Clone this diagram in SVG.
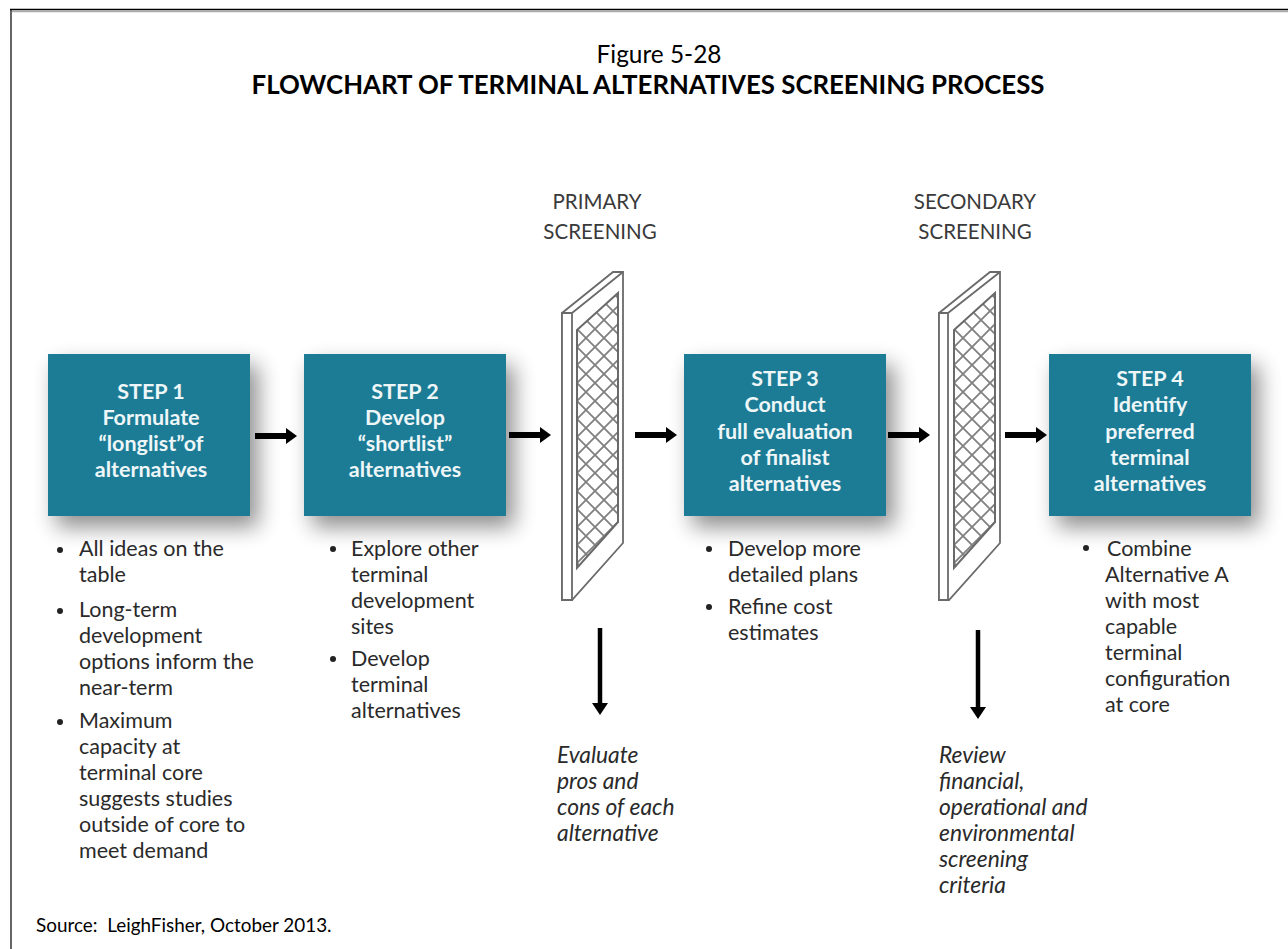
<svg xmlns="http://www.w3.org/2000/svg" width="1288" height="949" viewBox="0 0 1288 949">
<style>
text{font-family:"Lato","Carlito","Liberation Sans",sans-serif;fill:#2a2a2a}
.t{font-size:25.8px;fill:#000;text-anchor:middle}
.b{font-weight:700}
.h{font-size:20.5px;fill:#3a3a3a;text-anchor:middle}
.s{font-size:21.5px;fill:#eef6f8;text-anchor:middle;font-weight:700}
.l{font-size:21.5px;fill:#2a2a2a}
.i{font-size:22.8px;font-style:italic;fill:#2a2a2a}
.box{fill:#1f7c96;filter:url(#sh)}
.f{fill:#fff;stroke:#6a6a6a;stroke-width:1.8}
.g{fill:url(#mesh);stroke:#6a6a6a;stroke-width:2}
.c{stroke:#000;stroke-width:6;fill:none;marker-end:url(#a)}
.v{stroke:#000;stroke-width:4.500;fill:none;marker-end:url(#a2)}
.d{fill:#222}
</style>
<defs>
<filter id="sh" x="-25%" y="-25%" width="155%" height="160%"><feGaussianBlur in="SourceAlpha" stdDeviation="11"/><feOffset dx="8" dy="11"/><feComponentTransfer><feFuncA type="linear" slope="0.45"/></feComponentTransfer><feMerge><feMergeNode/><feMergeNode in="SourceGraphic"/></feMerge></filter>
<pattern id="mesh" width="18" height="18" patternUnits="userSpaceOnUse" x="577" y="293"><rect width="18" height="18" fill="#fff"/><path d="M0 0L18 18M18 0L0 18" stroke="#808080" stroke-width="1.800"/></pattern>
<pattern id="mesh2" width="18" height="18" patternUnits="userSpaceOnUse" x="954" y="293"><rect width="18" height="18" fill="#fff"/><path d="M0 0L18 18M18 0L0 18" stroke="#808080" stroke-width="1.800"/></pattern>
<marker id="a" markerUnits="userSpaceOnUse" markerWidth="12" markerHeight="18" refX="0" refY="9" orient="auto"><path d="M0 1L11 9L0 17Z" fill="#000"/></marker>
<marker id="a2" markerUnits="userSpaceOnUse" markerWidth="12" markerHeight="18" refX="0" refY="9" orient="auto"><path d="M0 1L12 9L0 17Z" fill="#000"/></marker>
</defs>
<rect x="0" y="0" width="1288" height="949" fill="#fff"/>
<path d="M10 11.500H1288" fill="none" stroke="#aaa" stroke-width="1.500"/>
<path d="M11 10V949" fill="none" stroke="#666" stroke-width="2"/>
<path d="M10 9.500H1288" fill="none" stroke="#000" stroke-width="1.500"/>
<text class="t" x="659" y="63" style="font-size:24.400px">Figure 5-28</text>
<text class="t b" x="648" y="94">FLOWCHART OF TERMINAL ALTERNATIVES SCREENING PROCESS</text>
<g id="step1"><rect class="box" x="48" y="354" width="202" height="162"/>
<text class="s" x="151" y="399">STEP 1</text><text class="s" x="151" y="425">Formulate</text><text class="s" x="151" y="451">“longlist”of</text><text class="s" x="151" y="477">alternatives</text></g>
<g id="step2"><rect class="box" x="304" y="354" width="202" height="162"/>
<text class="s" x="405" y="399">STEP 2</text><text class="s" x="405" y="425">Develop</text><text class="s" x="405" y="451">“shortlist”</text><text class="s" x="405" y="477">alternatives</text></g>
<g id="step3"><rect class="box" x="684" y="354" width="202" height="162"/>
<text class="s" x="785" y="386">STEP 3</text><text class="s" x="785" y="412">Conduct</text><text class="s" x="785" y="439">full evaluation</text><text class="s" x="785" y="465">of finalist</text><text class="s" x="785" y="491">alternatives</text></g>
<g id="step4"><rect class="box" x="1049" y="354" width="202" height="162"/>
<text class="s" x="1150" y="386">STEP 4</text><text class="s" x="1150" y="412">Identify</text><text class="s" x="1150" y="439">preferred</text><text class="s" x="1150" y="465">terminal</text><text class="s" x="1150" y="491">alternatives</text></g>
<g id="connectors">
<path class="c" d="M255 436H286"/>
<path class="c" d="M509 435H540"/>
<path class="c" d="M635 435H666"/>
<path class="c" d="M888 435H919"/>
<path class="c" d="M1005 435H1036"/>
<path class="v" d="M600 628V703"/>
<path class="v" d="M978 630V707"/>
</g>
<g id="primary-screen">
<text class="h" x="597" y="209">PRIMARY</text><text class="h" x="600" y="239">SCREENING</text>
<path class="f" d="M562 313L613 272H623V543L572 600H562Z"/><path class="f" d="M562 313H572V600H562ZM572 313L623 272"/>
<path class="g" d="M577 330L618 293V522L577 568Z"/>
</g>
<g id="secondary-screen">
<text class="h" x="975" y="209">SECONDARY</text><text class="h" x="975" y="239">SCREENING</text>
<path class="f" d="M939 313L990 272H1000V543L949 600H939Z"/><path class="f" d="M939 313H948V600H939ZM948 313L1000 272"/>
<path class="g" style="fill:url(#mesh2)" d="M954 330L995 293V522L954 568Z"/>
</g>
<g id="notes1">
<circle class="d" cx="60" cy="550" r="3"/><text class="l" x="79" y="556">All ideas on the</text><text class="l" x="79" y="582">table</text>
<circle class="d" cx="60" cy="611" r="3"/><text class="l" x="79" y="617">Long-term</text><text class="l" x="79" y="643">development</text><text class="l" x="79" y="669">options inform the</text><text class="l" x="79" y="695">near-term</text>
<circle class="d" cx="60" cy="722" r="3"/><text class="l" x="79" y="728">Maximum</text><text class="l" x="79" y="754">capacity at</text><text class="l" x="79" y="780">terminal core</text><text class="l" x="79" y="806">suggests studies</text><text class="l" x="79" y="832">outside of core to</text><text class="l" x="79" y="858">meet demand</text>
</g>
<g id="notes2">
<circle class="d" cx="333" cy="549" r="3"/><text class="l" x="351" y="556">Explore other</text><text class="l" x="351" y="582">terminal</text><text class="l" x="351" y="608">development</text><text class="l" x="351" y="634">sites</text>
<circle class="d" cx="333" cy="659" r="3"/><text class="l" x="351" y="666">Develop</text><text class="l" x="351" y="692">terminal</text><text class="l" x="351" y="718">alternatives</text>
</g>
<g id="notes3">
<circle class="d" cx="709" cy="549" r="3"/><text class="l" x="728" y="556">Develop more</text><text class="l" x="728" y="582">detailed plans</text>
<circle class="d" cx="709" cy="607" r="3"/><text class="l" x="728" y="614">Refine cost</text><text class="l" x="728" y="640">estimates</text>
</g>
<g id="notes4">
<circle class="d" cx="1086" cy="548" r="3"/><text class="l" x="1107" y="556">Combine</text><text class="l" x="1105" y="582">Alternative A</text><text class="l" x="1105" y="608">with most</text><text class="l" x="1105" y="634">capable</text><text class="l" x="1105" y="660">terminal</text><text class="l" x="1105" y="686">configuration</text><text class="l" x="1105" y="712">at core</text>
</g>
<g id="eval1"><text class="i" x="557" y="763">Evaluate</text><text class="i" x="557" y="789">pros and</text><text class="i" x="557" y="815">cons of each</text><text class="i" x="557" y="841">alternative</text></g>
<g id="eval2"><text class="i" x="939" y="763">Review</text><text class="i" x="939" y="789">financial,</text><text class="i" x="939" y="815">operational and</text><text class="i" x="939" y="841">environmental</text><text class="i" x="939" y="867">screening</text><text class="i" x="939" y="893">criteria</text></g>
<text x="36" y="932" font-size="18.900" xml:space="preserve" style="fill:#000">Source:  LeighFisher, October 2013.</text>
</svg>
